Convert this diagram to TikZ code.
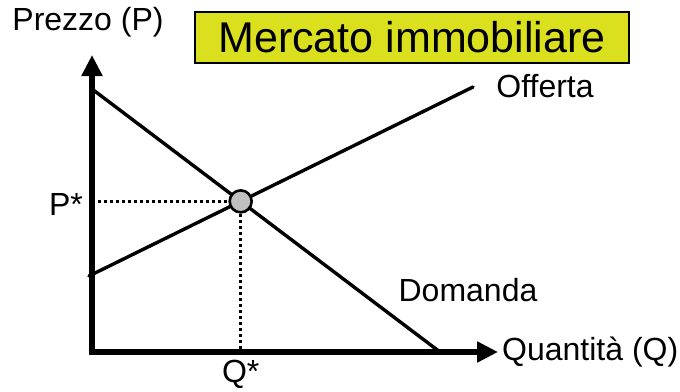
\documentclass[tikz,border=0pt]{standalone}
\usepackage{fontspec}
\setmainfont{Liberation Sans}
\usepackage{xcolor}
\usetikzlibrary{calc,arrows.meta,positioning}
\definecolor{titleYellow}{RGB}{219,224,30}
\definecolor{eqGray}{RGB}{192,192,192}

\tikzset{
  axisline/.style={line width=5.5pt, -{Triangle[length=21pt,width=20pt]}},
  curveline/.style={line width=3.4pt, line cap=round},
  guideline/.style={line width=3pt, dash pattern=on 3pt off 3pt},
  lbl/.style={font=\fontsize{32}{35}\selectfont, inner sep=0pt}
}

\begin{document}
\begin{tikzpicture}[x=1pt,y=-1pt]
\useasboundingbox (0,0) rectangle (680,391);
% axes
\coordinate (O) at (92,352);
\coordinate (ytip) at (92,55);
\coordinate (xtip) at (498,352);
% curves
\coordinate (dem1) at (92,89);
\coordinate (dem2) at (440,352);
\coordinate (off1) at (89,276);
\coordinate (off2) at (473,87);
\draw[curveline] (dem1) -- (dem2);
\draw[curveline] (off1) -- (off2);
\draw[axisline] ($(O)+(0,2.75)$) -- (ytip);
\draw[axisline] ($(O)+(-2.75,0)$) -- (xtip);
% equilibrium
\node[circle, draw, fill=eqGray, line width=2.6pt, minimum size=22pt, inner sep=0pt] (eq)
  at (intersection of dem1--dem2 and off1--off2) {};
\coordinate (pstar) at (O |- eq);
\coordinate (qstar) at (eq |- O);
\draw[guideline] (pstar) -- (eq.west);
\draw[guideline] (eq.south) -- (qstar);
% labels
\node[lbl] (plabel) at (88,22) {Prezzo (P)};
\node[lbl, anchor=west] (qlabel) at (502,352) {Quantità (Q)};
\node[lbl] (pval) at (66,204) {P*};
\node[lbl] (qval) at ($(qstar)+(0,22)$) {Q*};
\node[lbl] (offlabel) at (545,86) {Offerta};
\node[lbl] (demlabel) at (468,290) {Domanda};
\node[draw, fill=titleYellow, line width=2pt, minimum width=434pt, minimum height=51pt,
  font=\fontsize{43}{46}\selectfont, inner sep=0pt] (title) at (412,37) {Mercato immobiliare};
\end{tikzpicture}
\end{document}
